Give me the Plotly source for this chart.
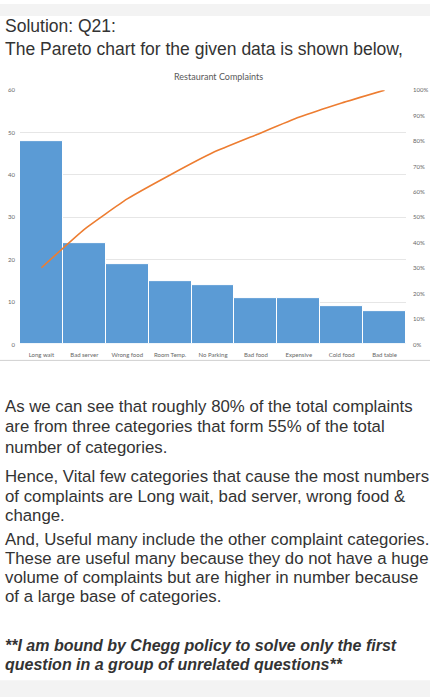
import numpy as np
import plotly.graph_objects as go

# %% data
categories = ["Long wait", "Bad server", "Wrong food", "Room Temp.", "No Parking",
              "Bad food", "Expensive", "Cold food", "Bad table"]
complaints = [48, 24, 19, 15, 14, 11, 11, 9, 8]
left_ticks = [0, 10, 20, 30, 40, 50, 60]
right_ticks = [0, 10, 20, 30, 40, 50, 60, 70, 80, 90, 100]

header_lines = ["Solution: Q21:", "The Pareto chart for the given data is shown below,"]
body_lines = [
    "As we can see that roughly 80% of the total complaints",
    "are from three categories that form 55% of the total",
    "number of categories.",
    "Hence, Vital few categories that cause the most numbers",
    "of complaints are Long wait, bad server, wrong food &",
    "change.",
    "And, Useful many include the other complaint categories.",
    "These are useful many because they do not have a huge",
    "volume of complaints but are higher in number because",
    "of a large base of categories.",
]
note_lines = ["**I am bound by Chegg policy to solve only the first",
              "question in a group of unrelated questions**"]

# cumulative share for the pareto line
cum_pct = np.cumsum(complaints) / np.sum(complaints) * 100

W, H = 432, 700


def py(px_y):
    # pixel row -> paper y
    return 1 - px_y / H


# %% figure
fig = go.Figure()
fig.add_trace(go.Bar(x=categories, y=complaints, marker=dict(color="#5B9BD5", line=dict(color="white", width=1)),
                     yaxis="y", showlegend=False))
fig.add_trace(go.Scatter(x=categories, y=cum_pct, mode="lines", line=dict(color="#ED7D31", width=1.6, shape="spline", smoothing=0.4),
                         yaxis="y2", showlegend=False))

tick_font = dict(family="Lato, sans-serif", size=6, color="#666666")
fig.update_layout(
    width=W, height=H, autosize=False,
    margin=dict(l=0, r=0, t=0, b=0),
    paper_bgcolor="white", plot_bgcolor="white",
    bargap=0,
    xaxis=dict(domain=[20 / W, 406 / W], tickfont=tick_font, showgrid=False, ticks="",
               showline=False, anchor="y", ticklen=0, ticklabelstandoff=5),
    yaxis=dict(domain=[py(344), py(87)], range=[0, 60], tickvals=left_ticks, tickfont=tick_font,
               gridcolor="#e6e6e6", gridwidth=1, zeroline=False, ticklabelstandoff=4),
    yaxis2=dict(overlaying="y", side="right", range=[0, 100], tickvals=right_ticks,
                ticktext=[f"{v}%" for v in right_ticks], tickfont=tick_font, showgrid=False,
                zeroline=False, anchor="x", ticklabelstandoff=6),
)

# chart title
fig.add_annotation(text="Restaurant Complaints", x=218 / W, y=py(73), xref="paper", yref="paper",
                   xanchor="center", yanchor="middle", showarrow=False,
                   font=dict(family="Lato, sans-serif", size=9, color="#595959"))

# page bands and chart border
fig.add_shape(type="rect", xref="paper", yref="paper", x0=0, x1=430 / W, y0=py(0), y1=py(12),
              fillcolor="#f3f3f3", line_width=0)
fig.add_shape(type="rect", xref="paper", yref="paper", x0=0, x1=430 / W, y0=py(700), y1=py(683),
              fillcolor="#f3f3f3", line_width=0)
fig.add_shape(type="line", xref="paper", yref="paper", x0=0, x1=430 / W, y0=py(360), y1=py(360),
              line=dict(color="#d0d0d0", width=1))

text_family = "Liberation Sans, Arial, sans-serif"
for txt, row in zip(header_lines, [22, 45]):
    fig.add_annotation(text=txt, x=3 / W, y=py(row), xref="paper", yref="paper", xanchor="left",
                       yanchor="middle", showarrow=False,
                       font=dict(family=text_family, size=17.5, color="#333333"))

body_rows = [407, 427, 448, 477, 497, 517, 541, 560, 579, 598]
for txt, row in zip(body_lines, body_rows):
    fig.add_annotation(text=txt, x=3 / W, y=py(row), xref="paper", yref="paper", xanchor="left",
                       yanchor="middle", showarrow=False,
                       font=dict(family=text_family, size=16.8, color="#333333"))

for txt, row in zip(note_lines, [648, 667]):
    fig.add_annotation(text=f"<b><i>{txt}</i></b>", x=3 / W, y=py(row), xref="paper", yref="paper",
                       xanchor="left", yanchor="middle", showarrow=False,
                       font=dict(family=text_family, size=16, color="#333333"))

# page has a default body margin, drop it so the figure sits at the window corner
fig.write_html("out.html", config={"displayModeBar": False},
               post_script="document.body.style.margin='0';")
